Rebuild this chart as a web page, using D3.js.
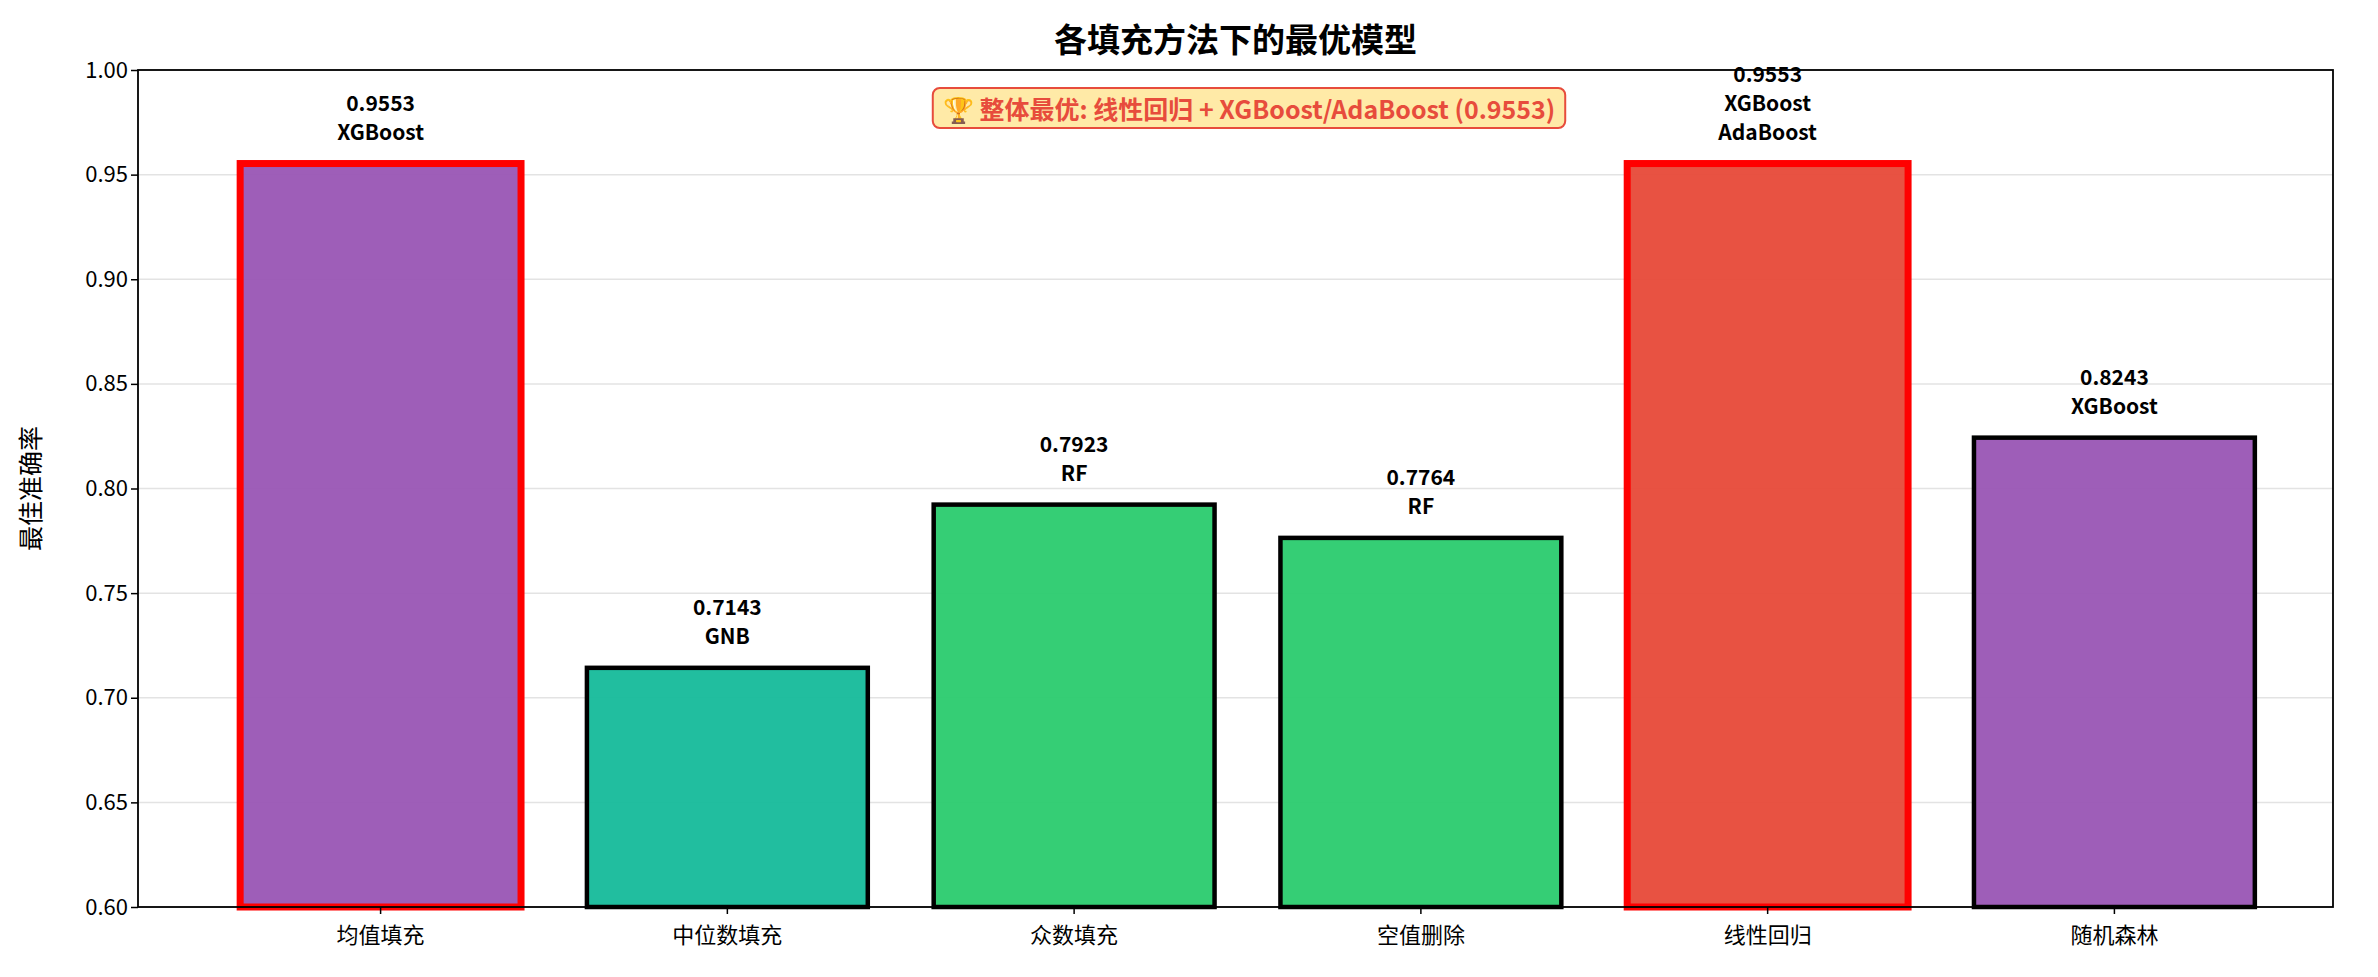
<!DOCTYPE html>
<html><head><meta charset="utf-8">
<script src="https://cdn.jsdelivr.net/npm/d3@7"></script>
<style>body{margin:0;background:#fff}text{font-family:"Noto Sans CJK SC","Noto Sans",sans-serif}</style>
</head><body><svg id="c" width="2378" height="977"></svg>
<script>
const categories=["均值填充","中位数填充","众数填充","空值删除","线性回归","随机森林"];
const values=[0.9553,0.7143,0.7923,0.7764,0.9553,0.8243];
const models=[["XGBoost"],["GNB"],["RF"],["RF"],["XGBoost","AdaBoost"],["XGBoost"]];
const colors=["#9b59b6","#1abc9c","#2ecc71","#2ecc71","#e74c3c","#9b59b6"];
const best=[true,false,false,false,true,false];
const yTicks=[0.60,0.65,0.70,0.75,0.80,0.85,0.90,0.95,1.00];
const title="各填充方法下的最优模型", yLabel="最佳准确率";
const note="🏆 整体最优: 线性回归 + XGBoost/AdaBoost (0.9553)";

const L=138,R=2333,T=70,B=907;
const svg=d3.select("#c");
const x=d3.scaleBand().domain(categories).range([L+12,R+12]).paddingInner(0.19).paddingOuter(0.26);
const y=d3.scaleLinear().domain([0.6,1.0]).range([B,T]);
svg.append("g").selectAll("line").data(yTicks).join("line")
 .attr("x1",L).attr("x2",R).attr("y1",d=>y(d)).attr("y2",d=>y(d)).attr("stroke","#e3e3e3").attr("stroke-width",1.5);
svg.append("g").selectAll("rect").data(values).join("rect")
 .attr("x",(d,i)=>x(categories[i])).attr("width",x.bandwidth())
 .attr("y",d=>y(d)).attr("height",d=>B-y(d))
 .attr("fill",(d,i)=>colors[i]).attr("fill-opacity",0.97)
 .attr("stroke",(d,i)=>best[i]?"#ff0000":"#000").attr("stroke-width",(d,i)=>best[i]?7:4.5);
const lab=svg.append("g");
values.forEach((v,i)=>{
 const lines=[v.toFixed(4),...models[i]];
 const cx=x(categories[i])+x.bandwidth()/2;
 lines.forEach((s,j)=>{
  lab.append("text").attr("x",cx).attr("y",y(v)-24-(lines.length-1-j)*29)
   .attr("text-anchor","middle").attr("font-size",21).attr("font-weight","bold").text(s);
 });
});
svg.append("g").attr("transform",`translate(0,${B})`).call(d3.axisBottom(x).tickSizeOuter(0).tickSize(7))
 .call(g=>{g.selectAll("text").attr("font-size",22).attr("dy","1.2em");g.select(".domain").remove();g.selectAll("line").attr("stroke-width",1.5);});
svg.append("g").attr("transform",`translate(${L},0)`).call(d3.axisLeft(y).tickValues(yTicks).tickFormat(d3.format(".2f")).tickSize(7).tickSizeOuter(0))
 .call(g=>{g.selectAll("text").attr("font-size",22);g.select(".domain").remove();g.selectAll("line").attr("stroke-width",1.5);});
svg.append("rect").attr("x",L).attr("y",T).attr("width",R-L).attr("height",B-T).attr("fill","none").attr("stroke","#000").attr("stroke-width",1.8);
svg.append("text").attr("x",(L+R)/2).attr("y",52).attr("text-anchor","middle").attr("font-size",33).attr("font-weight","bold").text(title);
svg.append("text").attr("transform",`translate(40,${(T+B)/2}) rotate(-90)`).attr("text-anchor","middle").attr("font-size",25).text(yLabel);
const ng=svg.append("g");
const box=ng.append("rect");
const nt=ng.append("text").attr("x",1249).attr("y",119).attr("text-anchor","middle").attr("font-size",25).attr("font-weight","bold").attr("fill","#e74c3c").text(note);
const bb=nt.node().getBBox();
box.attr("x",bb.x-10).attr("y",bb.y-2).attr("width",bb.width+20).attr("height",bb.height+4)
 .attr("rx",7).attr("fill","#ffeaa7").attr("stroke","#e74c3c").attr("stroke-width",2);
</script></body></html>
